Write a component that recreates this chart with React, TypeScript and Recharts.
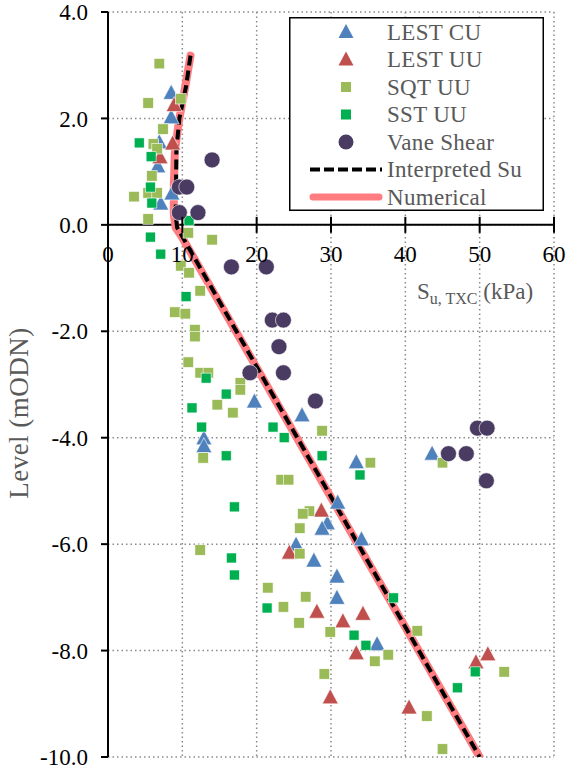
import {
  ScatterChart,
  Scatter,
  XAxis,
  YAxis,
  CartesianGrid,
  ReferenceLine,
  Legend,
} from "recharts";

// chart box
const W = 567;
const H = 771;
const M = { top: 11, right: 13, bottom: 14, left: 8 };
const X_AXIS_H = 1;
const Y_AXIS_W = 100;

const xDomain: [number, number] = [0, 60];
const yDomain: [number, number] = [-10, 4];
const xTicks = [0, 10, 20, 30, 40, 50, 60];
const yTicks = [-10, -8, -6, -4, -2, 0, 2, 4];

// [Su (kPa), level (mODN)]
const lestCu = [
  [8.5, 2.49], [8.5, 2.03], [6.9, 1.56], [6.7, 1.11], [8.6, 0.6], [7.1, 0.41],
  [12.9, -4.0], [12.9, -4.15], [19.7, -3.31], [26.1, -3.57], [43.6, -4.29],
  [33.4, -4.45], [30.9, -5.21], [29.5, -5.6], [28.8, -5.7], [25.3, -6.0],
  [34.1, -5.9], [27.7, -6.3], [30.8, -6.6], [30.8, -7.0], [36.2, -7.87],
];

const lestUu = [
  [8.9, 2.26], [8.7, 1.54], [7.0, 1.28], [28.7, -5.36], [24.4, -6.15],
  [28.1, -7.26], [31.6, -7.44], [34.3, -7.3], [33.4, -8.04], [29.9, -8.87],
  [40.5, -9.06], [49.5, -8.21], [51.1, -8.06],
];

const sqtUu = [
  [6.9, 3.03], [5.4, 2.29], [9.8, 2.37], [7.4, 1.8], [6.1, 1.52], [6.6, 1.43],
  [5.9, 0.92], [3.5, 0.53], [5.4, 0.6], [6.6, 0.6], [5.4, 0.11], [10.8, -0.15],
  [14.0, -0.28], [9.8, -0.77], [10.9, -0.9], [12.4, -1.24], [9.0, -1.64],
  [10.4, -1.67], [11.7, -1.97], [11.7, -2.1], [10.8, -2.58], [12.4, -2.78],
  [13.5, -2.78], [17.8, -2.97], [17.8, -3.1], [14.7, -3.38], [16.8, -3.53],
  [12.8, -4.38], [28.8, -3.87], [35.3, -4.47], [23.3, -4.79], [24.3, -4.79],
  [45.0, -4.47], [27.1, -5.38], [26.2, -5.43], [25.8, -5.7], [25.8, -6.18],
  [21.5, -6.82], [26.6, -6.99], [23.6, -7.18], [25.7, -7.48], [29.9, -7.65],
  [35.9, -8.2], [37.7, -8.08], [29.1, -8.44], [41.6, -7.63], [53.3, -8.4],
  [42.9, -9.23], [45.0, -9.85], [12.4, -6.11],
];

const sstUu = [
  [4.2, 1.54], [5.8, 1.28], [5.7, 0.71], [5.9, 0.41], [10.9, 0.08], [5.7, -0.23],
  [7.1, -0.55], [10.5, -1.35], [13.2, -2.88], [15.9, -3.18], [11.3, -3.44],
  [12.6, -3.8], [15.9, -4.34], [22.2, -3.8], [23.7, -4.0], [28.8, -4.34],
  [33.9, -4.7], [17.0, -5.3], [16.6, -6.26], [17.0, -6.58], [21.4, -7.2],
  [38.4, -7.01], [33.1, -7.71], [34.7, -7.9], [47.0, -8.7], [49.4, -8.4],
];

const vaneShear = [
  [14.0, 1.22], [9.6, 0.71], [10.6, 0.71], [9.6, 0.23], [12.1, 0.23],
  [16.6, -0.79], [21.3, -0.79], [22.1, -1.79], [23.6, -1.79], [23.0, -2.29],
  [19.1, -2.78], [23.6, -2.78], [27.9, -3.31], [49.7, -3.82], [51.0, -3.82],
  [45.8, -4.3], [48.2, -4.3], [50.9, -4.81],
];

const interpreted = [
  [11.1, 3.18], [10.5, 2.6], [9.6, 2.0], [9.2, 1.4], [9.15, 0.7], [9.1, 0.2],
  [9.3, -0.05], [10.0, -0.22], [50, -10],
];

const numerical = [
  [11.1, 3.18], [10.4, 2.6], [9.6, 2.0], [9.0, 1.4], [8.85, 0.7], [8.85, 0.2],
  [9.1, -0.05], [9.9, -0.22], [50, -10],
];

const toPts = (arr: number[][]) => arr.map(([x, y]) => ({ x, y }));

const C_CU = "#4F81BD";
const C_UU = "#C0504D";
const C_SQT = "#9BBB59";
const C_SST = "#00B050";
const C_VANE = "#4A3B62";
const C_NUM = "#FF7C80";
const GREY = "#595959";
const FONT = "'Liberation Serif', 'Times New Roman', serif";

// pixel row of the y = 0 line, where the x axis sits
const plotTop = M.top + X_AXIS_H;
const plotH = H - plotTop - M.bottom;
const Y0 = plotTop + (plotH * (yDomain[1] - 0)) / (yDomain[1] - yDomain[0]);

const tri = (color: string, w = 8, h = 7) => (p: any) => (
  <path
    d={`M${p.cx},${p.cy - h - 1} L${p.cx + w},${p.cy + h} L${p.cx - w},${p.cy + h} Z`}
    fill={color}
    stroke="#fff"
    strokeWidth={0.6}
  />
);

const sq = (color: string, s = 10) => (p: any) => (
  <rect
    x={p.cx - s / 2}
    y={p.cy - s / 2}
    width={s}
    height={s}
    fill={color}
    stroke="#fff"
    strokeWidth={0.6}
  />
);

const circ = (p: any) => (
  <circle cx={p.cx} cy={p.cy} r={8} fill={C_VANE} stroke="#fff" strokeWidth={0.6} />
);

const noDot = () => <g />;

function XTick(props: any) {
  const { x, payload } = props;
  return (
    <g>
      <line x1={x} x2={x} y1={Y0 - 8} y2={Y0 + 8} stroke="#000" strokeWidth={2} />
      <text x={x} y={Y0 + 37} textAnchor="middle" style={{ fontFamily: FONT }} fontSize={23} fill="#000">
        {payload.value}
      </text>
      {payload.value === 60 && (
        <text x={417} y={Y0 + 74} style={{ fontFamily: FONT }} fontSize={23} fill={GREY}>
          S
          <tspan fontSize={16} dy={5}>u, TXC</tspan>
          <tspan fontSize={23} dy={-5}> (kPa)</tspan>
        </text>
      )}
    </g>
  );
}

const legendRows = [
  { label: "LEST CU", kind: "tri", color: C_CU },
  { label: "LEST UU", kind: "tri", color: C_UU },
  { label: "SQT UU", kind: "sq", color: C_SQT },
  { label: "SST UU", kind: "sq", color: C_SST },
  { label: "Vane Shear", kind: "circ", color: C_VANE },
  { label: "Interpreted Su", kind: "dash", color: "#000" },
  { label: "Numerical", kind: "line", color: C_NUM },
];

function LegendBox() {
  const ix = 57;
  return (
    <svg width={255} height={194} style={{ display: "block" }}>
      <rect x={0.75} y={0.75} width={253.5} height={192.5} fill="#fff" stroke="#000" strokeWidth={1.5} />
      {legendRows.map((r, i) => {
        const cy = 15 + i * 27.5;
        let icon = null;
        if (r.kind === "tri")
          icon = <path d={`M${ix},${cy - 8} L${ix + 7.5},${cy + 6} L${ix - 7.5},${cy + 6} Z`} fill={r.color} />;
        else if (r.kind === "sq")
          icon = <rect x={ix - 5} y={cy - 5} width={10} height={10} fill={r.color} />;
        else if (r.kind === "circ") icon = <circle cx={ix} cy={cy} r={7.5} fill={r.color} />;
        else if (r.kind === "dash")
          icon = <line x1={21} x2={93} y1={cy} y2={cy} stroke="#000" strokeWidth={4} strokeDasharray="10 4" />;
        else
          icon = <line x1={24} x2={90} y1={cy} y2={cy} stroke={r.color} strokeWidth={7} strokeLinecap="round" />;
        return (
          <g key={r.label}>
            {icon}
            <text x={98} y={cy + 7.5} style={{ fontFamily: FONT }} fontSize={23} letterSpacing={0.3} fill={GREY}>
              {r.label}
            </text>
          </g>
        );
      })}
    </svg>
  );
}

export default function App() {
  return (
    <div style={{ position: "fixed", left: 0, top: 0, width: W, height: H, background: "#fff" }}>
      <ScatterChart width={W} height={H} margin={M}>
        <CartesianGrid stroke="#8a8a8a" strokeWidth={1.5} strokeDasharray="1.5 3" />
        <XAxis
          type="number"
          dataKey="x"
          orientation="top"
          domain={xDomain}
          ticks={xTicks}
          height={X_AXIS_H}
          axisLine={false}
          tickLine={false}
          tick={(p: any) => <XTick {...p} />}
          interval={0}
          allowDataOverflow
        />
        <YAxis
          type="number"
          dataKey="y"
          domain={yDomain}
          ticks={yTicks}
          width={Y_AXIS_W}
          interval={0}
          allowDataOverflow
          tickFormatter={(v: number) => v.toFixed(1)}
          tick={{ fontFamily: FONT, fontSize: 23, fill: "#000" }}
          tickSize={7}
          tickMargin={13}
          axisLine={{ stroke: "#000", strokeWidth: 2 }}
          tickLine={{ stroke: "#000", strokeWidth: 2 }}
          label={{
            content: () => (
              <text
                x={28}
                y={413}
                transform="rotate(-90 28 413)"
                textAnchor="middle"
                style={{ fontFamily: FONT }}
                fontSize={27}
                letterSpacing={0.5}
                fill={GREY}
              >
                Level (mODN)
              </text>
            ),
          }}
        />
        <ReferenceLine y={0} stroke="#000" strokeWidth={2} />
        <Legend
          layout="vertical"
          align="center"
          verticalAlign="middle"
          content={() => <LegendBox />}
          wrapperStyle={{ left: 289, top: 17, width: 255, height: 194 }}
        />
        <Scatter
          name="Numerical"
          data={toPts(numerical)}
          fill={C_NUM}
          line={{ stroke: C_NUM, strokeWidth: 8, strokeLinecap: "round", strokeLinejoin: "round" }}
          lineType="joint"
          shape={noDot}
          isAnimationActive={false}
        />
        <Scatter
          name="Interpreted Su"
          data={toPts(interpreted)}
          fill="#000"
          line={{ stroke: "#000", strokeWidth: 4, strokeDasharray: "10 5" }}
          lineType="joint"
          shape={noDot}
          isAnimationActive={false}
        />
        <Scatter name="LEST CU" data={toPts(lestCu)} fill={C_CU} shape={tri(C_CU)} isAnimationActive={false} />
        <Scatter name="LEST UU" data={toPts(lestUu)} fill={C_UU} shape={tri(C_UU)} isAnimationActive={false} />
        <Scatter name="SQT UU" data={toPts(sqtUu)} fill={C_SQT} shape={sq(C_SQT, 10.5)} isAnimationActive={false} />
        <Scatter name="SST UU" data={toPts(sstUu)} fill={C_SST} shape={sq(C_SST, 10)} isAnimationActive={false} />
        <Scatter name="Vane Shear" data={toPts(vaneShear)} fill={C_VANE} shape={circ} isAnimationActive={false} />
      </ScatterChart>
    </div>
  );
}
